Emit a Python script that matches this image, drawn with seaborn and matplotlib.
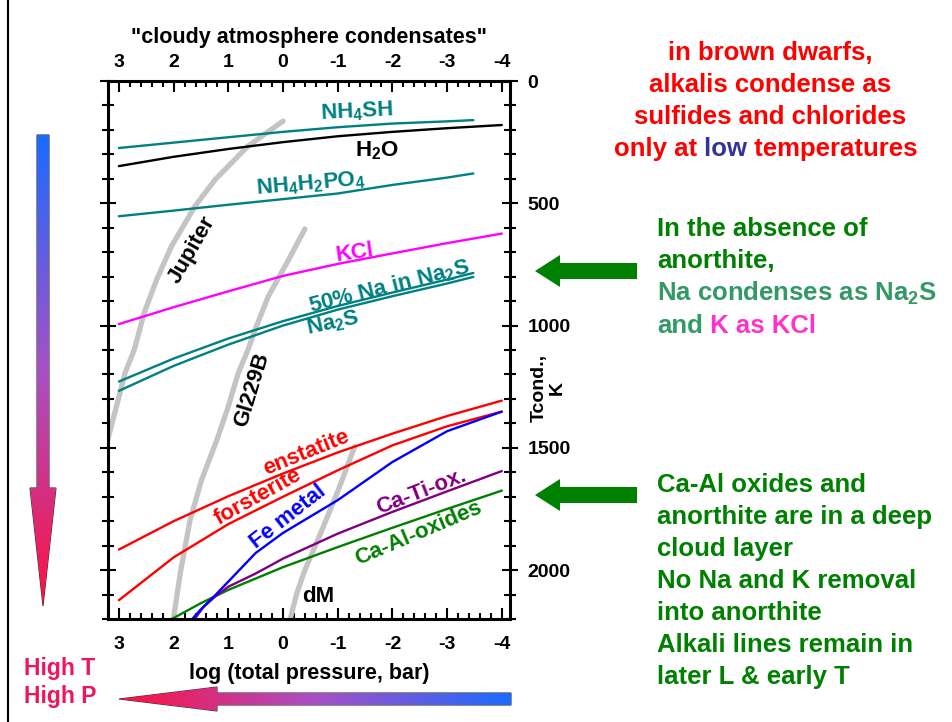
import numpy as np
import pandas as pd
import matplotlib
matplotlib.use("Agg")
import matplotlib.pyplot as plt
import seaborn as sns
from matplotlib.patches import Polygon
from matplotlib.ticker import FixedLocator, MultipleLocator
from matplotlib.colors import LinearSegmentedColormap

# ---------------- data (log P in bar, T in K) ----------------
logp_full = [3, 2, 1, 0, -1, -2, -3, -4]
logp_short = [3, 2, 1, 0, -1, -2, -3, -3.48]

t_nh4sh = [274, 252, 230, 208, 189, 174, 165, 160]
t_h2o = [348, 310, 278, 250, 226, 208, 193, 180]
t_nh4h2po4 = [553, 530, 506, 483, 460, 425, 395, 378]
t_kcl = [994, 925, 860, 797, 748, 705, 663, 624]
t_na2s50 = [1229, 1135, 1053, 982, 920, 865, 812, 785]
t_na2s = [1267, 1165, 1078, 1000, 935, 880, 828, 801]
t_enstatite = [1916, 1800, 1698, 1605, 1519, 1442, 1370, 1307]
t_forsterite = [2123, 1948, 1812, 1700, 1592, 1490, 1412, 1352]

logp_fe = [1.7, 1.5, 1.24, 1, 0.5, 0, -1, -2, -3, -4]
t_fe = [2210, 2160, 2103, 2047, 1930, 1848, 1714, 1558, 1432, 1352]
logp_cati = [1.65, 1.45, 1.24, 1, 0.5, 0, -1, -2, -3, -4]
t_cati = [2210, 2150, 2108, 2068, 2014, 1953, 1851, 1762, 1678, 1595]
logp_caal = [2.07, 2, 1.5, 1, 0, -1, -2, -3, -4]
t_caal = [2205, 2196, 2135, 2081, 1988, 1906, 1827, 1750, 1675]

# atmosphere profiles
jup_logp = [0.0, 0.64, 1.24, 1.61, 2.04, 2.31, 2.54, 2.72, 2.89, 3.01, 3.22]
jup_t = [164, 266, 403, 512, 676, 812, 949, 1099, 1195, 1300, 1481]
gl_logp = [-0.40, -0.07, 0.27, 0.51, 0.64, 0.82, 1.0, 1.21, 1.49, 1.70, 1.88, 2.01]
gl_t = [605, 744, 881, 1017, 1099, 1195, 1331, 1468, 1632, 1796, 2014, 2210]
dm_logp = [-1.31, -1.01, -0.71, -0.40, -0.25, -0.12]
dm_t = [1495, 1673, 1837, 2000, 2096, 2210]

xticks = [3, 2, 1, 0, -1, -2, -3, -4]
xtick_labels = ["3", "2", "1", "0", "-1", "-2", "-3", "-4"]
yticks = [0, 500, 1000, 1500, 2000]
ytick_labels = ["0", "500", "1000", "1500", "2000"]

# ---------------- style ----------------
sns.set_theme(style="white")
plt.rcParams["font.family"] = ["Liberation Sans", "DejaVu Sans"]
plt.rcParams["font.weight"] = "bold"
plt.rcParams["mathtext.fontset"] = "custom"
plt.rcParams["mathtext.rm"] = "Liberation Sans:bold"
plt.rcParams["mathtext.bf"] = "Liberation Sans:bold"
plt.rcParams["mathtext.it"] = "Liberation Sans:bold"
plt.rcParams["mathtext.default"] = "rm"
for k in ["text.color", "axes.labelcolor", "xtick.color", "ytick.color", "axes.edgecolor"]:
    plt.rcParams[k] = "black"

W, H = 952, 722
fig = plt.figure(figsize=(W / 100, H / 100), dpi=100)
L, R, T0, B = 108, 510, 81, 619
ax = fig.add_axes([L / W, 1 - B / H, (R - L) / W, (B - T0) / H])

TEAL = "#008080"
GRAY = "#c4c4c4"


def draw(x, y, color, lw, **kw):
    df = pd.DataFrame({"logp": x, "T": y})
    sns.lineplot(data=df, x="logp", y="T", ax=ax, color=color, linewidth=lw,
                 sort=False, estimator=None, legend=False, **kw)


# gray profiles first
draw(jup_logp, jup_t, GRAY, 3.8, solid_capstyle="round")
draw(gl_logp, gl_t, GRAY, 3.8, solid_capstyle="round")
draw(dm_logp, dm_t, GRAY, 3.8, solid_capstyle="round")

draw(logp_short, t_nh4sh, TEAL, 1.7)
draw(logp_full, t_h2o, "black", 1.7)
draw(logp_short, t_nh4h2po4, TEAL, 1.7)
draw(logp_full, t_kcl, "#ff00ff", 1.7)
draw(logp_short, t_na2s50, TEAL, 1.7)
draw(logp_short, t_na2s, TEAL, 1.7)
draw(logp_full, t_enstatite, "#ff0000", 1.7)
draw(logp_full, t_forsterite, "#ff0000", 1.7)
draw(logp_caal, t_caal, "#008000", 1.7)
draw(logp_cati, t_cati, "#800080", 1.7)
draw(logp_fe, t_fe, "#0000ff", 1.7)

ax.set_xlim(3.2, -4.15)
ax.set_ylim(2200, 0)
ax.set_xlabel("")
ax.set_ylabel("")
for s in ax.spines.values():
    s.set_linewidth(2.2)
    s.set_color("black")

ax.xaxis.set_major_locator(FixedLocator(xticks))
ax.set_xticklabels(xtick_labels)
ax.xaxis.set_minor_locator(MultipleLocator(0.2))
ax.yaxis.set_major_locator(FixedLocator(yticks))
ax.set_yticklabels(ytick_labels)
ax.yaxis.set_minor_locator(MultipleLocator(100))

TK = 14
ax.tick_params(axis="x", which="both", direction="in", top=True, bottom=True,
               labeltop=False, labelbottom=True, width=1.5, labelsize=TK, pad=12)
ax.tick_params(axis="x", which="major", length=8)
ax.tick_params(axis="x", which="minor", length=4)
ax.tick_params(axis="y", which="both", direction="inout", left=True, right=True,
               labelleft=False, labelright=True, width=1.5, labelsize=TK, pad=7)
ax.tick_params(axis="y", which="major", length=11)
ax.tick_params(axis="y", which="minor", length=8)
for lab in ax.get_xticklabels() + ax.get_yticklabels():
    lab.set_fontweight("bold")

sec = ax.secondary_xaxis("top")
sec.xaxis.set_major_locator(FixedLocator(xticks))
sec.set_xticklabels(xtick_labels)
sec.xaxis.set_minor_locator(matplotlib.ticker.NullLocator())
sec.tick_params(axis="x", length=0, pad=7, labelsize=TK)
for lab in sec.get_xticklabels():
    lab.set_fontweight("bold")
sec.spines["top"].set_visible(False)

# curve labels
FS = 16
labels = [
    (r"NH$_4$SH", -1.35, 128, 3, TEAL),
    (r"H$_2$O", -1.72, 283, 0, "black"),
    (r"NH$_4$H$_2$PO$_4$", -0.51, 419, 5, TEAL),
    ("Jupiter", 1.67, 689, 60, "black"),
    ("KCl", -1.31, 703, 8, "#ff00ff"),
    (r"50% Na in Na$_2$S", -1.95, 840, 14, TEAL),
    (r"Na$_2$S", -0.91, 989, 12, TEAL),
    ("Gl229B", 0.57, 1263, 73, "black"),
    ("enstatite", -0.43, 1522, 22, "#ff0000"),
    ("forsterite", 0.45, 1700, 29, "#ff0000"),
    ("Fe metal", -0.10, 1782, 38, "#0000ff"),
    ("Ca-Ti-ox.", -2.53, 1680, 21, "#800080"),
    ("Ca-Al-oxides", -2.47, 1850, 23, "#008000"),
    ("dM", -0.64, 2107, 0, "black"),
]
for txt, x, y, rot, c in labels:
    ax.text(x, y, txt, color=c, fontsize=FS, fontweight="bold", rotation=rot,
            rotation_mode="anchor", ha="center", va="center")


def P(x, y):
    return (x / W, 1 - y / H)


fig.text(*P(309, 37), '"cloudy atmosphere condensates"', ha="center", va="center",
         fontsize=15.5, fontweight="bold")
fig.text(*P(309, 673), "log (total pressure, bar)", ha="center", va="center",
         fontsize=15.5, fontweight="bold")
fig.text(*P(548, 388), "Tcond.,\nK", rotation=90, ha="center", va="center",
         multialignment="center", fontsize=14, fontweight="bold", linespacing=1.1)

# ---------------- overlay for annotations ----------------
oax = fig.add_axes([0, 0, 1, 1], zorder=5)
oax.set_xlim(0, W)
oax.set_ylim(H, 0)
oax.axis("off")
oax.patch.set_alpha(0)

RED = "#ff0000"
TFS = 18.5


def chain(x, y, parts, ha="left"):
    t = oax.text(x, y, parts[0][0], color=parts[0][1], fontsize=TFS, fontweight="bold",
                 ha=ha, va="center")
    for s, c in parts[1:]:
        t = oax.annotate(s, xy=(1, 0), xycoords=t, color=c, fontsize=TFS,
                         fontweight="bold", ha="left", va="bottom")
    return t


for yy, s in [(53, "in brown dwarfs,"), (85, "alkalis condense as"), (117, "sulfides and chlorides")]:
    oax.text(770, yy, s, color=RED, fontsize=TFS, fontweight="bold", ha="center", va="center")
chain(614, 149, [("only at", RED), (" low", "#333399"), (" temperatures", RED)])

GREEN = "#008000"
SEA = "#339966"
oax.text(657, 229, "In the absence of", color=GREEN, fontsize=TFS, fontweight="bold", va="center")
oax.text(657, 261, "anorthite,", color=GREEN, fontsize=TFS, fontweight="bold", va="center")
oax.text(657, 293, r"Na condenses as Na$_2$S", color=SEA, fontsize=TFS, fontweight="bold", va="center")
chain(657, 326, [("and", SEA), (" K as KCl", "#ff33cc")])

for yy, s in zip([485, 517, 549, 581, 613, 645, 677],
                 ["Ca-Al oxides and", "anorthite are in a deep", "cloud layer",
                  "No Na and K removal", "into anorthite", "Alkali lines remain in",
                  "later L & early T"]):
    oax.text(657, yy, s, color=GREEN, fontsize=TFS, fontweight="bold", va="center")

# green block arrows
for yc in (271, 495):
    pts = [(535, yc), (560, yc - 16), (560, yc - 8), (637, yc - 8), (637, yc + 8),
           (560, yc + 8), (560, yc + 16)]
    oax.add_patch(Polygon(pts, closed=True, facecolor=GREEN, edgecolor="none"))

# gradient arrows
cmap = LinearSegmentedColormap.from_list("br", ["#1a6bff", "#a850c4", "#ff1040"])
vpts = [(37, 135), (49, 135), (49, 488), (56, 488), (43, 606), (30, 488), (37, 488)]
vpoly = Polygon(vpts, closed=True, facecolor="none", edgecolor="#333333", lw=0.8)
oax.add_patch(vpoly)
im = oax.imshow(np.linspace(0, 1, 256).reshape(-1, 1), extent=(29, 57, 606, 135),
                cmap=cmap, aspect="auto", origin="upper", zorder=1)
im.set_clip_path(vpoly)

hpts = [(119, 699), (217, 687), (217, 693), (511, 693), (511, 705), (217, 705), (217, 711)]
hpoly = Polygon(hpts, closed=True, facecolor="none", edgecolor="#333333", lw=0.8)
oax.add_patch(hpoly)
im2 = oax.imshow(np.linspace(1, 0, 256).reshape(1, -1), extent=(118, 512, 711, 687),
                 cmap=cmap, aspect="auto", origin="upper", zorder=1)
im2.set_clip_path(hpoly)

PINK = "#f0145a"
oax.text(24, 668, "High T", color=PINK, fontsize=16.5, fontweight="bold", va="center")
oax.text(24, 697, "High P", color=PINK, fontsize=16.5, fontweight="bold", va="center")

# left border line
oax.plot([8, 8], [0, H], color="black", lw=1.5)

fig.savefig("out.png", dpi=100)
